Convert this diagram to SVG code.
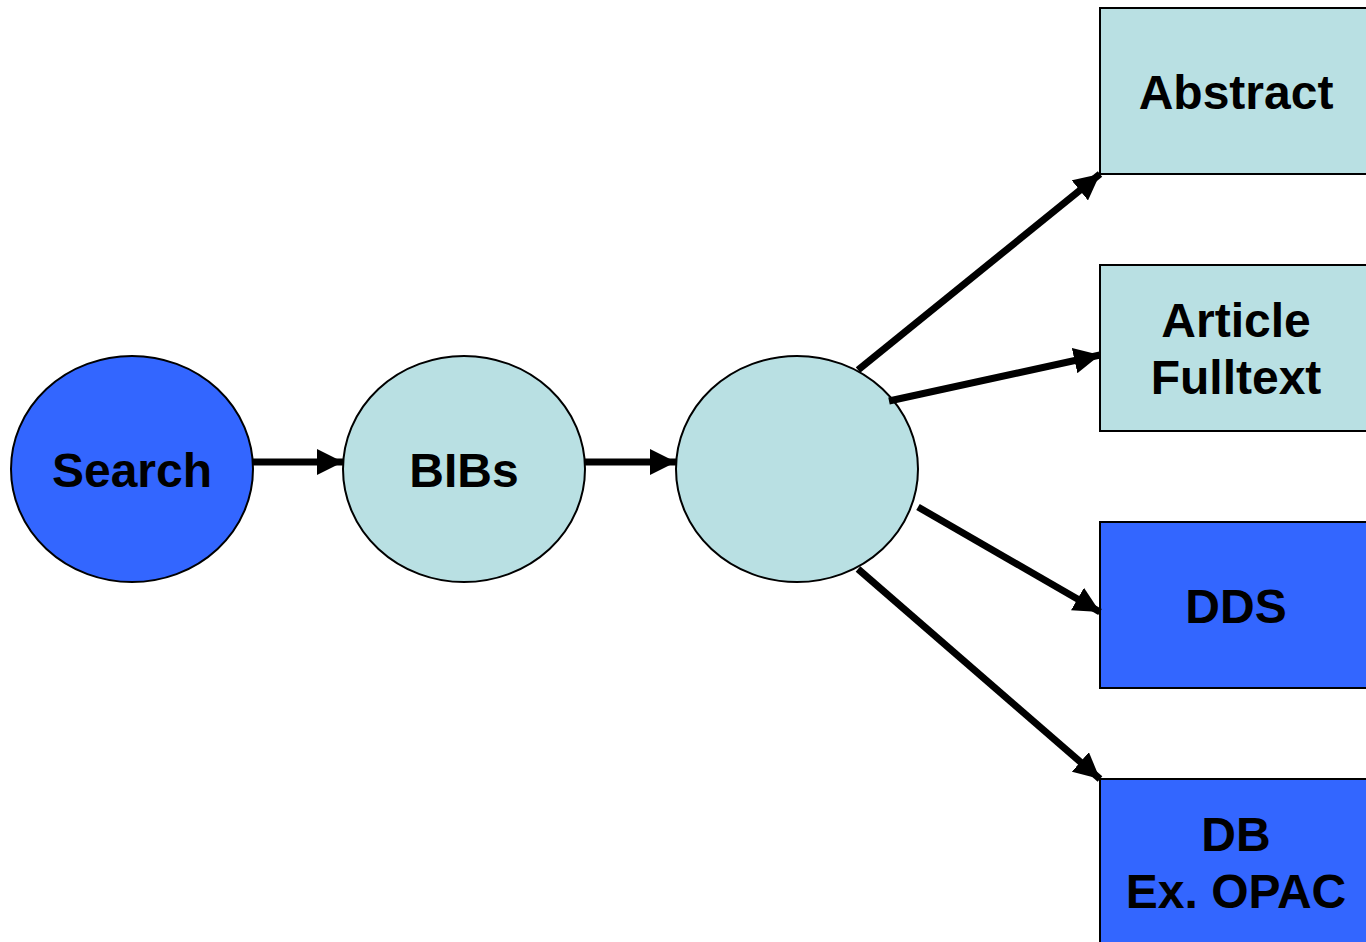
<svg xmlns="http://www.w3.org/2000/svg" width="1366" height="942" viewBox="0 0 1366 942">
<style>
.dark{fill:#3366FF;stroke:#000;stroke-width:2}
.light{fill:#B9E0E3;stroke:#000;stroke-width:2}
.lbl{font-family:"Liberation Sans",Arial,sans-serif;font-weight:bold;font-size:48px;fill:#000;text-anchor:middle}
.con{stroke:#000;stroke-width:7;fill:none;marker-end:url(#ah)}
</style>
<defs>
<marker id="ah" markerUnits="userSpaceOnUse" markerWidth="28" markerHeight="26" refX="26" refY="13" orient="auto">
<path d="M0,0 L26,13 L0,26 Z" fill="#000"/>
</marker>
</defs>
<rect width="1366" height="942" fill="#fff"/>
<g id="search"><ellipse class="dark" cx="132" cy="469" rx="121" ry="113"/><text class="lbl" x="132" y="487">Search</text></g>
<g id="bibs"><ellipse class="light" cx="464" cy="469" rx="121" ry="113"/><text class="lbl" x="464" y="487">BIBs</text></g>
<g id="hub"><ellipse class="light" cx="797" cy="469" rx="121" ry="113"/></g>
<g id="abstract"><rect class="light" x="1100" y="8" width="274" height="166"/><text class="lbl" x="1236" y="109">Abstract</text></g>
<g id="article"><rect class="light" x="1100" y="265" width="274" height="166"/><text class="lbl" x="1236" y="337">Article</text><text class="lbl" x="1236" y="394">Fulltext</text></g>
<g id="dds"><rect class="dark" x="1100" y="522" width="274" height="166"/><text class="lbl" x="1236" y="623">DDS</text></g>
<g id="db"><rect class="dark" x="1100" y="779" width="274" height="180"/><text class="lbl" x="1236" y="851">DB</text><text class="lbl" x="1236" y="908">Ex. OPAC</text></g>
<g id="connectors">
<line class="con" x1="253" y1="462" x2="343" y2="462"/>
<line class="con" x1="585" y1="462" x2="676" y2="462"/>
<line class="con" x1="858" y1="370" x2="1100" y2="174"/>
<line class="con" x1="889" y1="401" x2="1100" y2="355"/>
<line class="con" x1="918" y1="507" x2="1100" y2="612"/>
<line class="con" x1="858" y1="569" x2="1100" y2="779"/>
</g>
</svg>
